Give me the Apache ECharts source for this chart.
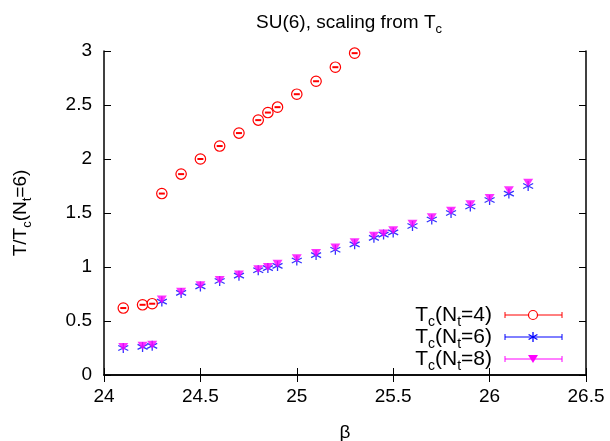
<!DOCTYPE html>
<html>
<head>
<meta charset="utf-8">
<script src="https://cdn.jsdelivr.net/npm/echarts@6/dist/echarts.min.js"></script>
<style>
  html, body { margin: 0; padding: 0; background: #fff; }
  #chart { width: 610px; height: 441px; }
</style>
</head>
<body>
<div id="chart"></div>
<script>
// beta values and T/Tc(Nt=6)
var betaNt4 = [24.1, 24.2, 24.25, 24.3, 24.4, 24.5, 24.6, 24.7, 24.8, 24.85, 24.9, 25.0, 25.1, 25.2, 25.3];
var tNt4 = [0.62, 0.65, 0.66, 1.68, 1.86, 2.00, 2.12, 2.24, 2.36, 2.43, 2.48, 2.60, 2.72, 2.85, 2.98];

var betaNt68 = [24.1, 24.2, 24.25, 24.3, 24.4, 24.5, 24.6, 24.7, 24.8, 24.85, 24.9, 25.0, 25.1,
                25.2, 25.3, 25.4, 25.45, 25.5, 25.6, 25.7, 25.8, 25.9, 26.0, 26.1, 26.2];
var tNt6 = [0.25, 0.26, 0.27, 0.68, 0.76, 0.82, 0.87, 0.92, 0.97, 0.99, 1.01, 1.06, 1.11,
            1.16, 1.21, 1.27, 1.30, 1.32, 1.38, 1.44, 1.50, 1.56, 1.62, 1.68, 1.75];
var tNt8 = [0.26, 0.27, 0.28, 0.70, 0.77, 0.83, 0.88, 0.93, 0.98, 1.00, 1.03, 1.08, 1.13,
            1.18, 1.23, 1.29, 1.31, 1.34, 1.40, 1.46, 1.52, 1.58, 1.64, 1.71, 1.78];

var xTicks = [24, 24.5, 25, 25.5, 26, 26.5];
var yTicks = [0, 0.5, 1, 1.5, 2, 2.5, 3];

function pairs(xs, ys) {
    return xs.map(function (x, i) { return [x, ys[i]]; });
}

var font = 'Liberation Sans';
var star = 'path://M0,-5L0,5M-4.4,-2.5L4.4,2.5M-4.4,2.5L4.4,-2.5';

var chart = echarts.init(document.getElementById('chart'));

var axisCommon = {
    type: 'value',
    axisLine: { lineStyle: { color: '#000', width: 1.5 } },
    axisTick: { inside: true, length: 7, lineStyle: { color: '#000', width: 1 } },
    splitLine: { show: false }
};

var option = {
    animation: false,
    backgroundColor: '#fff',
    title: {
        text: 'SU(6), scaling from T{sub|c}',
        left: 344, top: 4, textAlign: 'center',
        textStyle: {
            fontFamily: font, fontSize: 19, fontWeight: 'normal', color: '#000',
            rich: { sub: { fontFamily: font, fontSize: 13, padding: [14, 0, 0, 0] } }
        }
    },
    grid: { left: 104, right: 24, top: 51, bottom: 66, containLabel: false, outerBoundsMode: 'none' },
    xAxis: [
        Object.assign({}, axisCommon, {
            min: 24, max: 26.5, interval: 0.5,
            name: 'β', nameLocation: 'middle', nameGap: 48,
            nameTextStyle: { fontFamily: font, fontSize: 19, color: '#000' },
            axisLabel: { fontFamily: font, fontSize: 19, color: '#000', margin: 12 }
        }),
        Object.assign({}, axisCommon, {
            position: 'top', min: 24, max: 26.5, interval: 0.5,
            axisLabel: { show: false }
        })
    ],
    yAxis: [
        Object.assign({}, axisCommon, {
            min: 0, max: 3, interval: 0.5,
            name: 'T/T{sub|c}(N{sub|t}=6)', nameLocation: 'middle', nameGap: 70, nameRotate: 90,
            nameTextStyle: {
                fontFamily: font, fontSize: 19, color: '#000',
                rich: { sub: { fontFamily: font, fontSize: 13, padding: [14, 0, 0, 0] } }
            },
            axisLabel: { fontFamily: font, fontSize: 19, color: '#000', margin: 12 }
        }),
        Object.assign({}, axisCommon, {
            position: 'right', min: 0, max: 3, interval: 0.5,
            axisLabel: { show: false }
        })
    ],
    series: [
        {
            name: 'Nt=4',
            type: 'custom',
            data: pairs(betaNt4, tNt4),
            renderItem: function (params, api) {
                var p = api.coord([api.value(0), api.value(1)]);
                return {
                    type: 'group',
                    children: [
                        { type: 'circle', shape: { cx: p[0], cy: p[1], r: 5.2 },
                          style: { fill: 'none', stroke: '#ff0000', lineWidth: 1.2 } },
                        { type: 'line', shape: { x1: p[0] - 3, y1: p[1], x2: p[0] + 3, y2: p[1] },
                          style: { stroke: '#ff0000', lineWidth: 2 } }
                    ]
                };
            },
            z: 3
        },
        {
            name: 'Nt=6',
            type: 'scatter',
            data: pairs(betaNt68, tNt6),
            symbol: star,
            symbolSize: 10,
            itemStyle: { color: 'none', borderColor: '#0000ff', borderWidth: 1.3 },
            z: 2
        },
        {
            name: 'Nt=8',
            type: 'scatter',
            data: pairs(betaNt68, tNt8),
            symbol: 'triangle',
            symbolRotate: 180,
            symbolSize: [10, 8],
            itemStyle: { color: '#ff00ff' },
            z: 4
        }
    ],
    graphic: (function () {
        var rows = [['4', '#ff0000'], ['6', '#0000ff'], ['8', '#ff00ff']];
        var items = [];
        rows.forEach(function (r, i) {
            var y = 315 + i * 22;
            items.push({
                type: 'text', x: 492, y: y,
                style: {
                    text: 'T{sub|c}(N{sub|t}=' + r[0] + ')',
                    font: '21px ' + font, fill: '#000', align: 'right', verticalAlign: 'middle',
                    rich: { sub: { fontFamily: font, fontSize: 14, padding: [14, 0, 0, 0] } }
                }
            });
            items.push({ type: 'line', shape: { x1: 505, y1: y, x2: 562, y2: y }, style: { stroke: r[1], lineWidth: 1 } });
            items.push({ type: 'line', shape: { x1: 505, y1: y - 3, x2: 505, y2: y + 3 }, style: { stroke: r[1], lineWidth: 1 } });
            items.push({ type: 'line', shape: { x1: 562, y1: y - 3, x2: 562, y2: y + 3 }, style: { stroke: r[1], lineWidth: 1 } });
        });
        items.push({ type: 'circle', shape: { cx: 533, cy: 315, r: 4.5 }, style: { fill: '#fff', stroke: '#ff0000', lineWidth: 1.2 } });
        items.push({ type: 'line', shape: { x1: 533, y1: 332, x2: 533, y2: 342 }, style: { stroke: '#0000ff', lineWidth: 1.3 } });
        items.push({ type: 'line', shape: { x1: 528.6, y1: 334.5, x2: 537.4, y2: 339.5 }, style: { stroke: '#0000ff', lineWidth: 1.3 } });
        items.push({ type: 'line', shape: { x1: 528.6, y1: 339.5, x2: 537.4, y2: 334.5 }, style: { stroke: '#0000ff', lineWidth: 1.3 } });
        items.push({ type: 'polygon', shape: { points: [[528, 355], [538, 355], [533, 363]] }, style: { fill: '#ff00ff' } });
        return items;
    })()
};

chart.setOption(option);
</script>
</body>
</html>
